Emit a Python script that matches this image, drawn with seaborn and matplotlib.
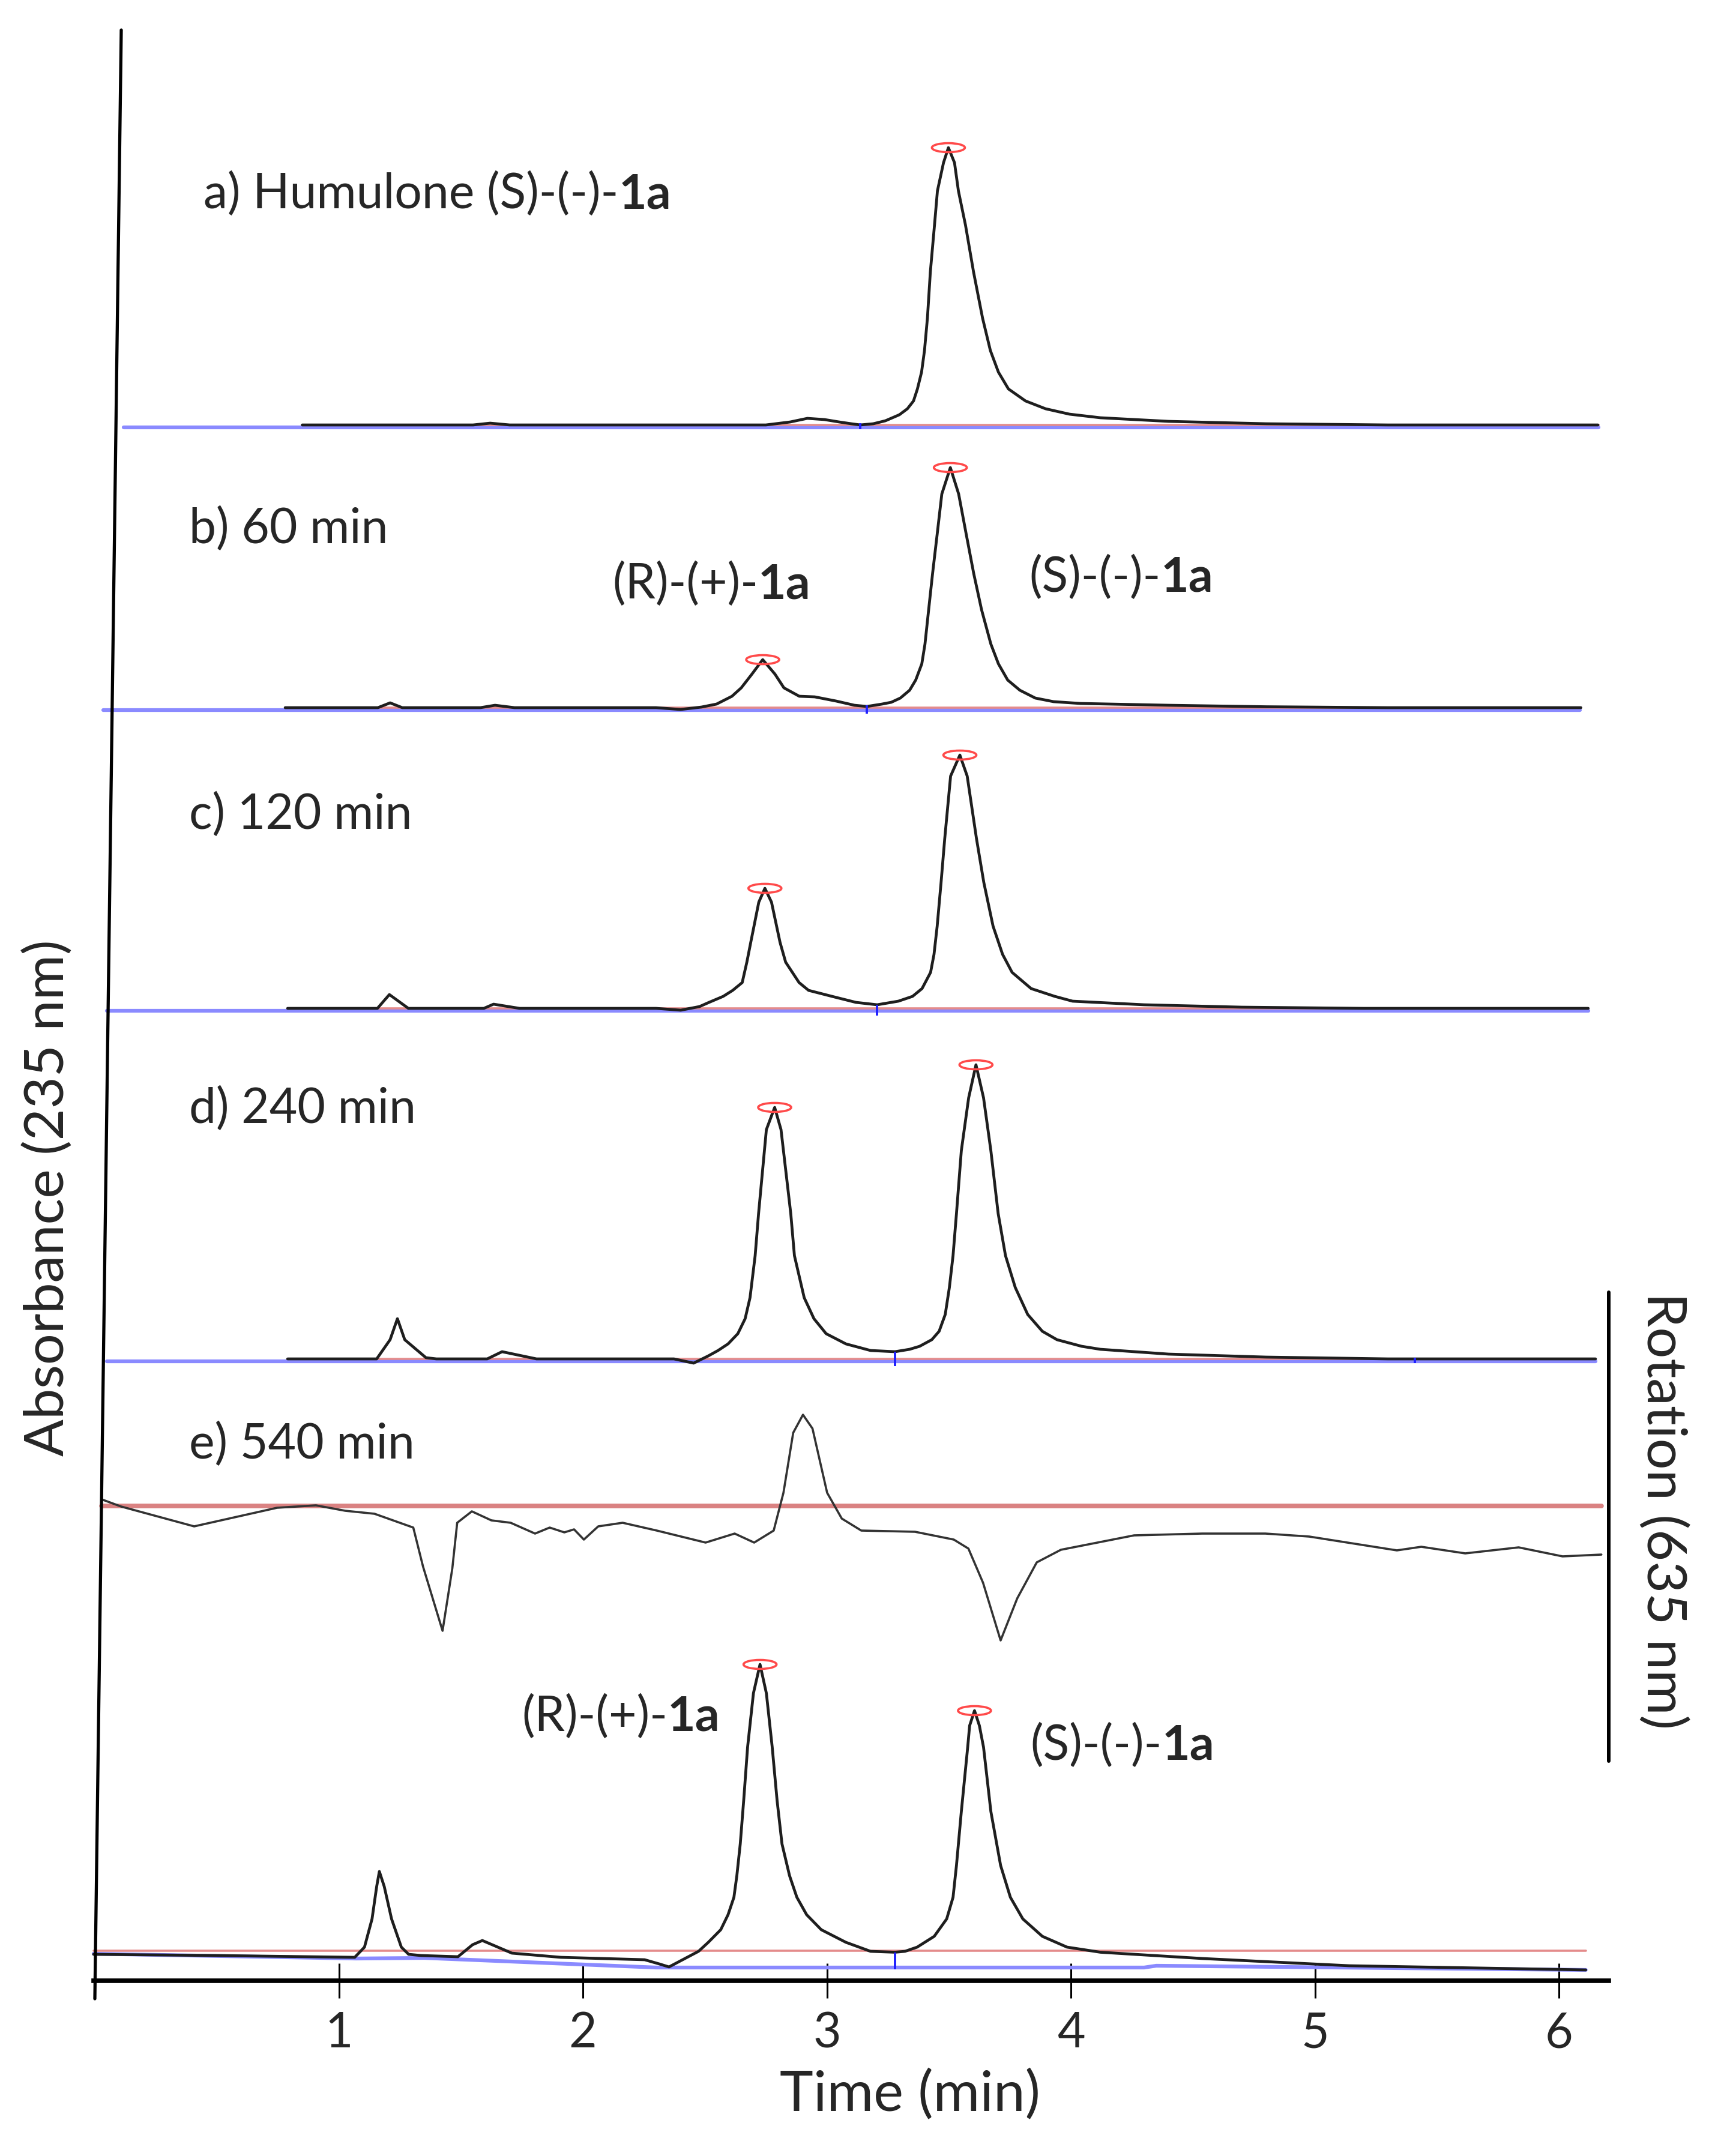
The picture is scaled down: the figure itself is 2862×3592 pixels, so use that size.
import numpy as np
import matplotlib
matplotlib.use('Agg')
import matplotlib.pyplot as plt
from matplotlib.lines import Line2D
from matplotlib.patches import Ellipse
import seaborn as sns

# ---- chromatogram traces (time in min, signal in a.u.) ----
A_TIME = [0.85, 1.55, 1.62, 1.70, 2.75, 2.85, 2.92, 2.99, 3.05, 3.10, 3.137, 3.19, 3.240, 3.297, 3.330,
          3.355, 3.371, 3.388, 3.400, 3.412, 3.424, 3.441, 3.453, 3.478, 3.498, 3.523, 3.539, 3.568,
          3.601, 3.638, 3.670, 3.703, 3.744, 3.814, 3.896, 3.994, 4.121, 4.40, 4.80, 5.30, 6.16]
A_SIGNAL = [0, 0, 3, 0, 0, 5, 11, 9, 5, 2, 0, 2, 7, 17, 27,
            40, 60, 88, 124, 178, 255, 333, 390, 437, 462, 437, 390, 333,
            255, 178, 124, 88, 60, 40, 27, 18, 12, 6, 2, 0, 0]

B_TIME = [0.78, 1.16, 1.21, 1.26, 1.58, 1.64, 1.72, 2.30, 2.40, 2.486, 2.548, 2.611, 2.649, 2.693, 2.737,
          2.787, 2.824, 2.887, 2.950, 3.038, 3.113, 3.164, 3.226, 3.264, 3.301, 3.339, 3.364, 3.389,
          3.402, 3.417, 3.433, 3.452, 3.471, 3.506, 3.540, 3.571, 3.602, 3.634, 3.672, 3.703, 3.741,
          3.791, 3.854, 3.929, 4.039, 4.40, 4.80, 5.30, 6.09]
B_SIGNAL = [0, 0, 8, 0, 0, 4, 0, 0, -3, 1, 6, 19, 33, 56, 80,
            56, 33, 19, 18, 11, 4, 2, 6, 9, 16, 29, 46, 73,
            106, 163, 223, 289, 356, 400, 356, 289, 223, 163, 106, 73, 46,
            29, 16, 10, 7, 4, 1.5, 0, 0]

C_TIME = [0.79, 1.158, 1.207, 1.285, 1.594, 1.634, 1.741, 2.30, 2.401, 2.478, 2.517, 2.575, 2.614, 2.653,
          2.672, 2.688, 2.721, 2.746, 2.773, 2.808, 2.831, 2.886, 2.925, 3.021, 3.119, 3.206, 3.293,
          3.351, 3.390, 3.425, 3.439, 3.452, 3.468, 3.483, 3.507, 3.545, 3.575, 3.613, 3.643, 3.681,
          3.720, 3.759, 3.837, 3.934, 4.007, 4.30, 4.70, 5.20, 6.12]
C_SIGNAL = [0, 0, 23, 0, 0, 7, 0, 0, -3, 3, 10, 20, 30, 43,
            77, 110, 177, 200, 177, 110, 77, 43, 30, 20, 10, 6, 12,
            20, 33, 60, 90, 137, 210, 283, 387, 422, 387, 283, 210, 137,
            90, 60, 33, 20, 12, 6, 2, 0, 0]

D_TIME = [0.79, 1.155, 1.210, 1.240, 1.270, 1.357, 1.40, 1.608, 1.669, 1.810, 2.373, 2.454, 2.514, 2.554,
          2.595, 2.635, 2.665, 2.685, 2.706, 2.720, 2.736, 2.752, 2.786, 2.812, 2.832, 2.852, 2.867,
          2.907, 2.947, 2.997, 3.078, 3.179, 3.279, 3.339, 3.380, 3.430, 3.460, 3.485, 3.502, 3.517,
          3.531, 3.551, 3.581, 3.611, 3.642, 3.672, 3.702, 3.732, 3.772, 3.823, 3.883, 3.943, 4.044,
          4.121, 4.40, 4.80, 5.30, 6.15]
D_SIGNAL = [0, 0, 32, 67, 32, 2, 0, 0, 12, 0, 0, -7, 5, 14,
            25, 42, 67, 102, 172, 242, 312, 382, 419, 382, 312, 242, 172,
            102, 67, 42, 25, 14, 12, 16, 21, 32, 46, 74, 119, 172,
            242, 347, 435, 490, 435, 347, 242, 172, 119, 74, 46, 32, 21,
            16, 8, 3, 0, 0]

# optical rotation trace (e)
E_TIME = [0.028, 0.108, 0.407, 0.747, 0.906, 1.026, 1.146, 1.305, 1.345, 1.425, 1.465, 1.485, 1.545,
          1.625, 1.704, 1.804, 1.864, 1.924, 1.964, 2.004, 2.063, 2.163, 2.303, 2.503, 2.622, 2.702,
          2.782, 2.822, 2.862, 2.902, 2.941, 3.001, 3.061, 3.141, 3.361, 3.520, 3.580, 3.640, 3.712,
          3.780, 3.860, 3.959, 4.259, 4.538, 4.797, 4.977, 5.336, 5.436, 5.616, 5.835, 6.015, 6.174]
E_SIGNAL = [11, -1, -34, -3, 1, -8, -13, -36, -101, -208, -104, -28, -9,
            -24, -28, -46, -36, -44, -39, -56, -34, -28, -41, -61, -46, -61,
            -41, 22, 122, 152, 129, 22, -21, -41, -43, -56, -71, -128, -224,
            -154, -94, -73, -49, -46, -46, -51, -74, -68, -79, -69, -84, -81]

F_TIME = [-0.005, 0.50, 1.065, 1.105, 1.136, 1.155, 1.166, 1.186, 1.216, 1.256, 1.286, 1.337, 1.488,
          1.548, 1.588, 1.709, 1.910, 2.253, 2.313, 2.353, 2.474, 2.514, 2.565, 2.595, 2.619, 2.631,
          2.645, 2.659, 2.675, 2.699, 2.726, 2.752, 2.776, 2.796, 2.816, 2.847, 2.877, 2.917, 2.977,
          3.078, 3.179, 3.279, 3.320, 3.370, 3.440, 3.491, 3.517, 3.531, 3.551, 3.577, 3.585, 3.605,
          3.625, 3.642, 3.672, 3.712, 3.752, 3.803, 3.883, 3.984, 4.121, 4.54, 5.14, 6.11]
F_SIGNAL = [-6, -8, -11, 6, 53, 107, 132, 107, 53, 6, -6, -8, -10,
            10, 17, -4, -11, -15, -22, -27, -1, 14, 35, 60, 89, 125,
            178, 250, 339, 429, 477, 429, 339, 250, 178, 125, 89, 60, 35,
            14, -1, -2.5, -1, 6, 24, 53, 89, 142, 232, 339, 375, 400,
            375, 339, 232, 142, 89, 53, 24, 6, -2.5, -13, -25, -32]
F_BASE_TIME = [-0.005, 1.07, 1.35, 2.30, 4.30, 4.35, 6.11]
F_BASE_SIGNAL = [-5, -13, -12, -28, -28, -25, -32]

# retention times of the integrated peaks (red markers)
A_PEAKS = [3.498]
B_PEAKS = [2.737, 3.506]
C_PEAKS = [2.746, 3.545]
D_PEAKS = [2.786, 3.611]
F_PEAKS = [2.726, 3.605]

# integration split marks (time, top, bottom)
SPLITS = {'a': [(3.137, 3, -7)], 'b': [(3.164, 4, -10)], 'c': [(3.206, 6, -12)],
          'd': [(3.279, 12, -12), (5.41, 2, -7)], 'f': [(3.279, -2.5, -31)]}

X_TICKS = [1, 2, 3, 4, 5, 6]

# ---- layout ----
W, H, DPI = 2862, 3592, 100
X0_PX, PX_PER_MIN = 158, 406.5
AX_BOTTOM_PX = 3300
OFFSETS = {'a': 2592, 'b': 2121, 'c': 1620, 'd': 1036, 'e': 791, 'f': 50}
SPANS = {'a': (0.118, 6.163), 'b': (0.034, 6.087), 'c': (0.05, 6.12), 'd': (0.05, 6.15)}

sns.set_theme(style='white')
plt.rcParams['font.family'] = ['Lato', 'DejaVu Sans']
LABEL_PT = 58
AXIS_PT = 66

fig = plt.figure(figsize=(W / DPI, H / DPI), dpi=DPI)
ax = fig.add_axes([0, (H - AX_BOTTOM_PX) / H, 1, AX_BOTTOM_PX / H])
ax.set_xlim(-X0_PX / PX_PER_MIN, (W - X0_PX) / PX_PER_MIN)
ax.set_ylim(0, AX_BOTTOM_PX)
ax.patch.set_alpha(0)

BLACK = '#1e1e1e'
BLUE = '#8a8aff'
PINK = '#e48c8c'
RED = '#ff4a4a'
TRACE_LW = 3.4

traces = {'a': (A_TIME, A_SIGNAL, A_PEAKS), 'b': (B_TIME, B_SIGNAL, B_PEAKS),
          'c': (C_TIME, C_SIGNAL, C_PEAKS), 'd': (D_TIME, D_SIGNAL, D_PEAKS)}

for key, (t, s, peaks) in traces.items():
    off = OFFSETS[key]
    t0, t1 = SPANS[key]
    sns.lineplot(x=[t0, t1], y=[off - 4, off - 4], ax=ax, color=BLUE, lw=4.5, legend=False)
    sns.lineplot(x=[t[0], t1], y=[off, off], ax=ax, color=PINK, lw=2.6, legend=False)
    sns.lineplot(x=np.array(t), y=np.array(s) + off, ax=ax, color=BLACK, lw=TRACE_LW,
                 sort=False, estimator=None, legend=False)

# trace e (rotation detector)
off = OFFSETS['e']
sns.lineplot(x=[E_TIME[0], E_TIME[-1]], y=[off, off], ax=ax, color='#d46c6c', lw=5.5, alpha=0.85, legend=False)
sns.lineplot(x=np.array(E_TIME), y=np.array(E_SIGNAL) + off, ax=ax, color='#333333', lw=2.6,
             sort=False, estimator=None, legend=False)

# trace f
off = OFFSETS['f']
sns.lineplot(x=np.array(F_BASE_TIME), y=np.array(F_BASE_SIGNAL) + off, ax=ax, color=BLUE, lw=4.5,
             sort=False, estimator=None, legend=False)
sns.lineplot(x=[F_TIME[0], F_TIME[-1]], y=[off, off], ax=ax, color=PINK, lw=2.6, legend=False)
sns.lineplot(x=np.array(F_TIME), y=np.array(F_SIGNAL) + off, ax=ax, color=BLACK, lw=TRACE_LW,
             sort=False, estimator=None, legend=False)
traces['f'] = (F_TIME, F_SIGNAL, F_PEAKS)

# peak markers
for key, (t, s, peaks) in traces.items():
    t = np.array(t)
    for p in peaks:
        i = int(np.argmin(np.abs(t - p)))
        ax.add_patch(Ellipse((t[i], s[i] + OFFSETS[key]), 55 / PX_PER_MIN, 15,
                             fill=False, edgecolor=RED, lw=2.6, zorder=5))

# integration split marks
for key, marks in SPLITS.items():
    for tm, top, bot in marks:
        ax.vlines(tm, bot + OFFSETS[key], top + OFFSETS[key], color='#1f1fff', lw=2.8, zorder=6)

# x axis
for side in ['top', 'left', 'right']:
    ax.spines[side].set_visible(False)
ax.spines['bottom'].set_color('black')
ax.spines['bottom'].set_linewidth(5.5)
ax.spines['bottom'].set_bounds(-0.005, 6.204)
ax.set_yticks([])
ax.set_xticks(X_TICKS)
ax.set_xticklabels([str(v) for v in X_TICKS])
ax.tick_params(axis='x', direction='inout', length=42, width=2.2, color='black',
               labelsize=LABEL_PT, pad=16, bottom=True)
ax.grid(False)

# hand-drawn style axis frame
fig.add_artist(Line2D([202 / W, 158 / W], [1 - 50 / H, 1 - 3330 / H], color='black', lw=3.8))
fig.add_artist(Line2D([2680 / W, 2680 / W], [1 - 2153 / H, 1 - 2934 / H], color='black', lw=4.3))

fig.text(1516 / W, 1 - 3490 / H, 'Time (min)', ha='center', va='center', fontsize=AXIS_PT + 2)
fig.text(80 / W, 1 - 1996 / H, 'Absorbance (235 nm)', ha='center', va='center', rotation=90, fontsize=AXIS_PT)
fig.text(2770 / W, 1 - 2517 / H, 'Rotation (635 nm)', ha='center', va='center', rotation=-90, fontsize=AXIS_PT)


def label(x_px, base_px, plain, bold=None):
    x = (x_px - X0_PX) / PX_PER_MIN
    y = AX_BOTTOM_PX - base_px
    txt = ax.text(x, y, plain, fontsize=LABEL_PT, ha='left', va='baseline')
    if bold:
        ax.annotate(bold, xy=(1, y), xycoords=(txt, 'data'), fontsize=LABEL_PT,
                    fontweight='bold', ha='left', va='baseline')


label(339, 347, 'a) Humulone (S)-(-)-', '1a')
label(315, 905, 'b) 60 min')
label(1020, 997, '(R)-(+)-', '1a')
label(1714, 986, '(S)-(-)-', '1a')
label(315, 1381, 'c) 120 min')
label(315, 1871, 'd) 240 min')
label(315, 2430, 'e) 540 min')
label(869, 2884, '(R)-(+)-', '1a')
label(1716, 2932, '(S)-(-)-', '1a')

fig.savefig('out.png', dpi=DPI, facecolor='white')
